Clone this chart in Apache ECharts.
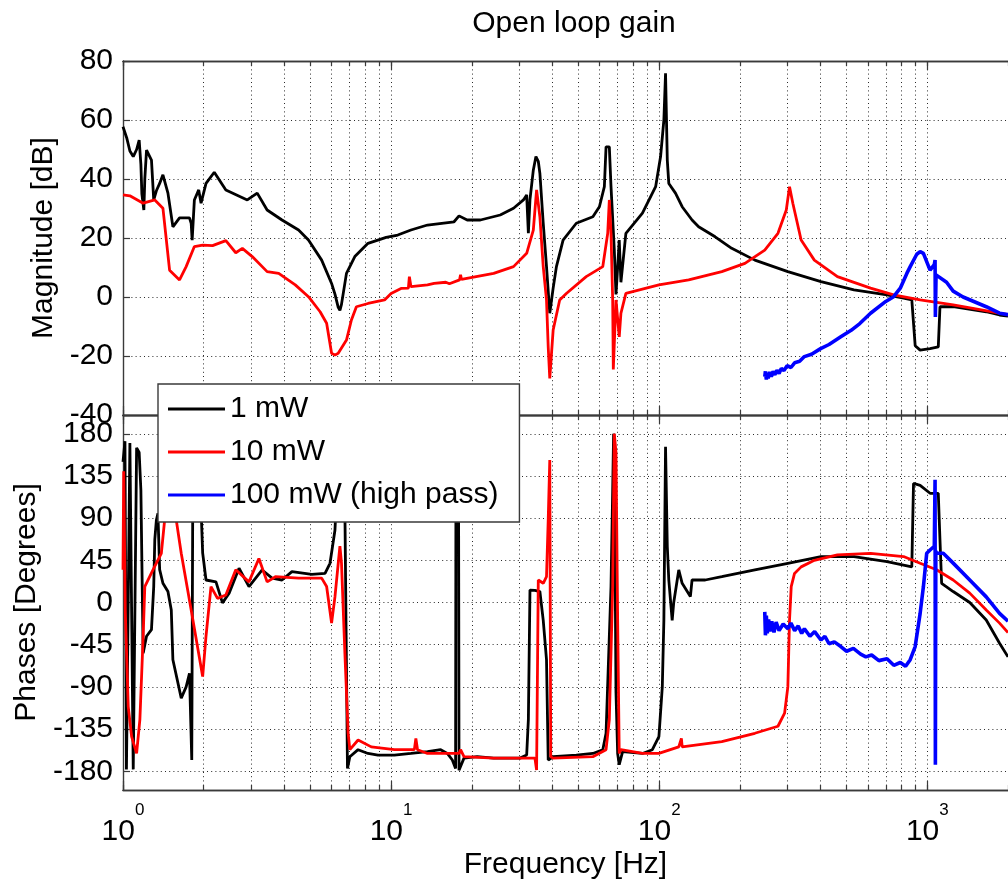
<!DOCTYPE html>
<html>
<head>
<meta charset="utf-8">
<title>Open loop gain</title>
<script src="https://cdn.jsdelivr.net/npm/echarts@6/dist/echarts.min.js"></script>
<style>
  html, body { margin: 0; padding: 0; background: #ffffff; }
  #chart { width: 1008px; height: 886px; }
</style>
</head>
<body>
<div id="chart"></div>
<script>
// Bode plot of the open loop gain for three laser power settings.
// Each series is a list of [frequency in Hz, value] points.

const seriesNames = ['1 mW', '10 mW', '100 mW (high pass)'];

// ---- magnitude [dB] ----
const mag1mW = [
  [1.00,57.7],[1.032,54],[1.061,49.5],[1.092,47.6],[1.124,50],[1.149,53.2],[1.166,45],[1.176,35],
  [1.196,29.5],[1.206,40],[1.224,49.8],[1.277,46.4],[1.302,32.9],[1.332,36],[1.370,38.5],[1.409,41.4],
  [1.471,35.2],[1.535,23.8],[1.625,26.8],[1.770,26.8],[1.796,25],[1.811,19.3],[1.846,32.9],[1.916,36.3],
  [1.955,31.8],[2.040,38.5],[2.190,42.3],[2.419,36.3],[2.908,32.9],[3.167,35.2],[3.448,29.5],[3.918,26.1],
  [4.517,22.7],[4.918,19.3],[5.508,12.5],[5.998,4.6],[6.174,1.0],[6.350,-3.5],[6.443,-4.5],[6.531,-2.5],
  [6.816,8.0],[7.322,13.7],[8.201,18.2],[9.584,20.2],[10.59,21.0],[11.86,22.7],[13.67,24.4],[17.17,25.5],
  [17.92,27.5],[19.22,26.1],[21.53,26.1],[25.53,27.8],[28.62,30.1],[31.16,32.9],[32.04,34.6],[32.51,21.6],
  [32.96,33],[33.92,43],[34.69,47.6],[35.40,46],[35.89,41.9],[36.94,25],[37.99,10.3],[39.07,-5.5],
  [40.22,3],[41.37,10.3],[43.80,19.3],[49.07,25],[56.57,27.2],[59.84,30.6],[62.44,37.4],[63.35,50.9],
  [65.16,50.9],[66.11,37.4],[68.00,16],[69.00,0.9],[69.99,10],[70.95,19.3],[71.99,5],[75.12,21.6],
  [86.60,28.4],[96.99,37.4],[101.2,47.6],[104.1,60],[105.6,75.8],[107.2,46.4],[108.6,38.5],[115.0,35.2],
  [121.8,30.6],[132.6,26.1],[140.3,23.8],[161.7,20.4],[186.4,16.5],[227.4,12.5],[301.9,8.6],[401.2,5.2],
  [532.7,2.4],[707.5,0.7],[815.6,-0.4],[875.4,-1.0],[901.2,-16.5],[940.4,-18],[1024,-17.5],[1099,-16.9],
  [1115,-3.3],[1249,-3.3],[1659,-5],[1860,-6.1],[2000,-6.5]
];
const mag10mW = [
  [1.00,34.6],[1.061,34.3],[1.189,31.8],[1.314,32.9],[1.409,30.1],[1.492,9.1],[1.625,5.8],[1.720,10.3],
  [1.846,17.1],[1.982,17.6],[2.158,17.4],[2.419,19.1],[2.634,15.0],[2.787,16.5],[3.034,13.7],[3.448,8.6],
  [3.809,8],[4.391,4.1],[4.918,0.1],[5.435,-5],[5.748,-8.9],[5.998,-19.1],[6.174,-19.7],[6.350,-19.1],
  [6.816,-14.6],[7.112,-7.8],[7.422,-3.3],[8.201,-2.2],[9.454,-1.0],[10.0,1.2],[10.89,2.9],[11.60,3],
  [11.70,6.9],[11.86,3.5],[13.67,4.1],[14.47,4.6],[16.0,5],[16.5,4.5],[18.0,5.8],[18.16,7.5],[18.3,6],
  [24.13,8.0],[28.62,10.3],[32.04,14.8],[33.92,22.7],[34.89,36.3],[35.89,27.2],[36.94,10.3],[37.99,-1],
  [38.55,-16.9],[39.07,-27.6],[40.22,-11.2],[42.54,-1],[45.04,1.2],[53.43,6.9],[61.60,10.3],[64.27,21.6],
  [65.16,32.9],[66.11,21.6],[67.07,-1],[67.42,-24.6],[69.00,-1],[70.95,-13.5],[71.99,-5.5],[75.12,1.2],
  [99.75,4.1],[128.8,5.8],[171.2,8.6],[208.8,11.4],[247.6,15.9],[277.3,21.6],[297.9,29.5],[306.3,37.4],
  [315.1,31.8],[338.4,19.3],[379.0,12.5],[462.1,6.9],[614.3,3],[748.9,0.7],[940.4,-1],[1249,-2.7],
  [1860,-5.5],[2000,-6]
];
const mag100mW = [
  [247.6,-27],[249,-25.2],[251,-28],[253,-25.8],[255,-27.6],[258,-25.4],[262,-27],[266,-25.2],
  [270,-26.4],[275,-24.8],[280,-25.9],[285.4,-24.2],[292,-24.9],[300,-23.3],[310,-23.9],[320,-22.3],
  [334,-21.8],[348.0,-20.2],[370,-19.4],[400,-17.5],[430,-16.1],[475.7,-13.5],[520,-11.3],[560,-9],
  [614.3,-5.5],[700,-1.5],[748.9,0.1],[793.0,3],[838.9,8],[863.6,10.3],[913.5,14.5],[940.4,15.4],
  [967.2,14.8],[1024,9.1],[1062,11],[1069,12.5],[1072,-6.8],[1078,7.5],[1083,8],[1180,5],[1249,2],
  [1360,0],[1659,-3.3],[1860,-5.5],[2000,-6]
];

// ---- phase [degrees] ----
const phase1mW = [
  [1.00,150],[1.017,172],[1.030,-178],[1.046,-178],[1.061,170],[1.077,172],[1.092,-178],[1.108,-178],
  [1.124,165],[1.149,160],[1.166,120],[1.189,-54],[1.224,-36],[1.277,-29],[1.302,17],[1.314,67],
  [1.332,88],[1.350,95],[1.370,35],[1.409,20.5],[1.471,11.7],[1.514,-8],[1.535,-61],[1.649,-102],
  [1.720,-90],[1.770,-75.5],[1.805,-168],[1.820,100],[1.955,100],[1.982,53],[2.040,24],[2.222,22],
  [2.350,-0.4],[2.488,10],[2.709,36.5],[2.950,17],[3.304,34.7],[3.598,26],[3.918,24],[4.267,33],
  [5.058,30],[5.670,31],[5.917,41.8],[6.174,77],[6.350,150],[6.531,165],[6.724,100],[6.875,-177],
  [7.017,-164.5],[7.531,-157],[8.201,-161],[8.929,-162.7],[10.29,-162.7],[11.86,-161],[13.67,-159],
  [15.31,-157],[16.21,-161],[16.92,-168],[17.40,-177],[17.45,120],[17.85,120],[17.92,-179],[18.16,-179],
  [18.70,-166],[20.94,-164.5],[24.13,-166],[30.27,-166],[32.04,-162.7],[32.51,-125],[32.96,13.3],
  [34.39,13],[35.89,11.7],[36.94,-19],[37.99,-61],[38.55,-168],[40.22,-164.5],[49.07,-162.7],
  [56.57,-161],[61.60,-157],[63.35,-139.5],[65.16,-36],[66.11,17],[67.07,120],[67.6,180],[68.00,175],
  [69.00,-96],[69.99,-161],[70.95,-173],[73.04,-159],[86.60,-161],[94.30,-157],[99.75,-143],
  [102.7,-90],[104.1,-19],[105.6,166],[107.2,60],[108.6,24],[111.8,-19],[113.3,0],[118.3,34.7],
  [121.8,20.5],[130.7,6.3],[132.6,24],[148.5,24],[171.2,27.5],[227.4,34.7],[301.9,41.8],[401.2,49],
  [532.7,49],[707.5,43.5],[875.4,38],[888.4,127],[940.4,125],[1024,116.5],[1099,116.5],[1115,67],
  [1131,20.5],[1249,11.7],[1440,0],[1659,-18.7],[1860,-43.5],[2000,-58]
];
const phase10mW = [
  [1.00,35],[1.006,140],[1.020,-10],[1.046,-111],[1.077,-143],[1.124,-161],[1.156,-125],[1.189,-36],
  [1.206,17],[1.295,35],[1.390,52.5],[1.430,88],[1.47,120],[1.55,120],[1.580,88],[1.649,52.5],
  [1.796,-8],[1.982,-79],[2.040,-36],[2.129,17],[2.252,4.4],[2.419,8],[2.634,35],[2.950,22],
  [3.213,47],[3.448,22],[3.703,27.5],[4.517,26],[5.508,26],[5.748,17],[5.998,-22],[6.174,6],
  [6.443,60],[6.531,42],[6.724,-54],[6.916,-139.5],[7.017,-157],[7.531,-146.7],[8.434,-154],
  [10.29,-157],[12.21,-157],[12.37,-145],[12.55,-157],[13.67,-161],[17.92,-161],[18.16,-157],
  [18.70,-164.5],[24.13,-166],[30.27,-166],[34.39,-166],[34.89,-178.7],[35.40,24],[36.94,20.5],
  [37.99,27.5],[38.55,88],[39.07,152],[39.4,-164.5],[40.22,-166],[56.57,-164.5],[63.35,-157],
  [65.16,-125],[67.07,17],[68.00,180],[69.0,160],[69.99,-18.7],[70.95,-161],[71.99,-157],[86.60,-161],
  [99.75,-161],[118.3,-154],[121.0,-145],[121.8,-154],[171.2,-148.4],[227.4,-139.5],[277.3,-132],
  [293.6,-118],[301.9,-90],[306.3,-18.7],[310.8,17],[319.7,31],[338.4,38],[379.0,45],[462.1,50.7],
  [614.3,52.5],[815.6,49],[940.4,41.8],[1083,35],[1249,24],[1440,10],[1659,-8],[1860,-22],[2000,-32]
];
const phase100mW = [
  [247.6,-10],[249,-35],[251,-14],[253,-33],[256,-18],[259,-31],[263,-20],[268,-32],[273,-21],
  [280,-30],[290,-23],[301.9,-28],[310,-22],[320,-30],[330,-25],[340,-33],[348,-28],[365,-36],
  [380,-31],[401.2,-40],[415,-36],[430,-44],[450,-42],[475.7,-47],[500,-52],[530,-49],[564,-55],
  [590,-58],[620,-56],[660,-62],[707.5,-60],[750,-67],[793,-64],[830,-68],[863.6,-61],
  [901.2,-47],[940.4,-11.6],[967.2,17],[995,52.5],[1024,56],[1062,60],[1069,131],[1072,-173],
  [1076,55],[1083,52.5],[1147,52.5],[1249,42],[1440,24],[1659,6],[1860,-11.6],[2000,-20]
];

// ---- axes ----
const freqRange = [1, 2000];
const freqGridValues = [1,2,3,4,5,6,7,8,9,10,20,30,40,50,60,70,80,90,
  100,200,300,400,500,600,700,800,900,1000,2000];
const freqDecadeValues = [1, 10, 100, 1000];
const magRange = [-40, 80];
const magStep = 20;
const phaseRange = [-200, 200];
const phaseTickValues = [-180, -135, -90, -45, 0, 45, 90, 135, 180];

const colors = ['#000000', '#ff0000', '#0000ff'];
const FONT = "'Liberation Sans', Arial, Helvetica, sans-serif";
const AXIS_COLOR = '#3a3a3a';
const gridDots = { color: '#2a2a2a', width: 1, type: [1, 3.2] };

const plotLeft = 123, plotWidth = 892;
const grids = [
  { left: plotLeft, top: 61, width: plotWidth, height: 354 },
  { left: plotLeft, top: 415, width: plotWidth, height: 375 }
];

function freqAxis(gridIndex, position, tickValues, tickLen, extra) {
  return Object.assign({
    type: 'log', logBase: 10, min: freqRange[0], max: freqRange[1],
    gridIndex: gridIndex, position: position,
    axisLine: { show: true, onZero: false, lineStyle: { color: AXIS_COLOR, width: 1.4 } },
    axisTick: { show: true, inside: true, length: tickLen, customValues: tickValues,
                lineStyle: { color: AXIS_COLOR, width: 1.2 } },
    axisLabel: { show: false },
    splitLine: { show: false },
    minorTick: { show: false }
  }, extra || {});
}

const xAxes = [];
[0, 1].forEach(function (g) {
  // main axis carrying the series and the dotted grid
  xAxes.push(freqAxis(g, 'bottom', freqGridValues, 5, {
    splitLine: { show: true, lineStyle: gridDots },
    axisLabel: g === 1 ? {
      show: true, customValues: freqDecadeValues, margin: 12,
      formatter: function (v) { return '{b|10}{s|' + Math.round(Math.log10(v)) + '}'; },
      rich: {
        b: { fontSize: 30, fontFamily: FONT, color: '#000', lineHeight: 60 },
        s: { fontSize: 17, fontFamily: FONT, color: '#000', lineHeight: 18, verticalAlign: 'top' }
      }
    } : { show: false },
    name: g === 1 ? 'Frequency [Hz]' : '',
    nameLocation: 'middle', nameGap: 60,
    nameTextStyle: { fontSize: 30, fontFamily: FONT, color: '#000' }
  }));
  // box edges and longer decade ticks
  xAxes.push(freqAxis(g, 'top', freqGridValues, 5));
  xAxes.push(freqAxis(g, 'bottom', freqDecadeValues, 9));
  xAxes.push(freqAxis(g, 'top', freqDecadeValues, 9));
});

const yAxes = [
  {
    type: 'value', gridIndex: 0, min: magRange[0], max: magRange[1], interval: magStep,
    axisLine: { show: true, onZero: false, lineStyle: { color: AXIS_COLOR, width: 1.4 } },
    axisTick: { show: true, inside: true, length: 7, lineStyle: { color: AXIS_COLOR, width: 1.2 } },
    axisLabel: { fontSize: 30, fontFamily: FONT, color: '#000', margin: 10 },
    splitLine: { show: true, lineStyle: gridDots },
    name: 'Magnitude [dB]', nameLocation: 'middle', nameGap: 62, nameRotate: 90,
    nameTextStyle: { fontSize: 30, fontFamily: FONT, color: '#000' }
  },
  {
    type: 'value', gridIndex: 1, min: phaseRange[0], max: phaseRange[1],
    axisLine: { show: true, onZero: false, lineStyle: { color: AXIS_COLOR, width: 1.4 } },
    axisTick: { show: true, inside: true, length: 7, customValues: phaseTickValues,
                lineStyle: { color: AXIS_COLOR, width: 1.2 } },
    axisLabel: { fontSize: 30, fontFamily: FONT, color: '#000', margin: 10, customValues: phaseTickValues },
    splitLine: { show: true, lineStyle: gridDots },
    name: 'Phases [Degrees]', nameLocation: 'middle', nameGap: 79, nameRotate: 90,
    nameTextStyle: { fontSize: 30, fontFamily: FONT, color: '#000' }
  }
];

function curve(name, data, panel, color, width) {
  return {
    type: 'line', name: name, data: data,
    xAxisIndex: panel * 4, yAxisIndex: panel,
    symbol: 'none', showSymbol: false, clip: true,
    lineStyle: { color: color, width: width },
    itemStyle: { color: color },
    emphasis: { disabled: true },
    animation: false
  };
}

const option = {
  backgroundColor: '#ffffff',
  animation: false,
  title: {
    text: 'Open loop gain', left: plotLeft + plotWidth / 2, top: 4, textAlign: 'center',
    textStyle: { fontSize: 30, fontWeight: 'normal', fontFamily: FONT, color: '#000' }
  },
  legend: {
    data: seriesNames, orient: 'vertical', left: 158, top: 384,
    icon: 'rect', itemWidth: 57, itemHeight: 3, itemGap: 11,
    padding: [9, 21, 11, 10],
    backgroundColor: '#ffffff', borderColor: AXIS_COLOR, borderWidth: 1.4,
    textStyle: { fontSize: 30, fontFamily: FONT, color: '#000', lineHeight: 32 },
    selectedMode: false, z: 10
  },
  grid: grids,
  xAxis: xAxes,
  yAxis: yAxes,
  series: [
    curve(seriesNames[0], mag1mW, 0, colors[0], 2.8),
    curve(seriesNames[1], mag10mW, 0, colors[1], 2.8),
    curve(seriesNames[2], mag100mW, 0, colors[2], 3.6),
    curve(seriesNames[0], phase1mW, 1, colors[0], 2.8),
    curve(seriesNames[1], phase10mW, 1, colors[1], 2.8),
    curve(seriesNames[2], phase100mW, 1, colors[2], 3.6)
  ]
};

const chart = echarts.init(document.getElementById('chart'), null, { renderer: 'canvas' });
chart.setOption(option);
</script>
</body>
</html>
